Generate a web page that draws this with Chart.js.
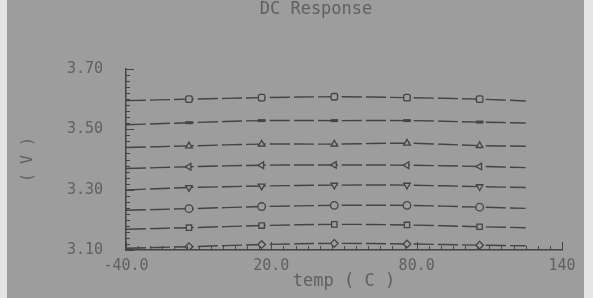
<!DOCTYPE html>
<html>
<head>
<meta charset="utf-8">
<script src="https://cdn.jsdelivr.net/npm/chart.js@4.4.1/dist/chart.umd.min.js"></script>
<style>
  html, body { margin: 0; padding: 0; background: #fff; }
  #wrap { width: 593px; height: 298px; }
</style>
</head>
<body>
<div id="wrap"><canvas id="dcChart" width="593" height="298"></canvas></div>
<script>
// temperature sweep points (C)
const temps = [-40, -14, 16, 46, 76, 106, 125];

// output voltage traces (V), top to bottom
const trace1 = [3.595, 3.600, 3.605, 3.608, 3.605, 3.600, 3.594];
const trace2 = [3.515, 3.522, 3.529, 3.529, 3.529, 3.524, 3.521];
const trace3 = [3.440, 3.445, 3.451, 3.451, 3.454, 3.446, 3.444];
const trace4 = [3.370, 3.376, 3.381, 3.382, 3.381, 3.377, 3.373];
const trace5 = [3.299, 3.307, 3.312, 3.315, 3.315, 3.310, 3.307];
const trace6 = [3.232, 3.237, 3.244, 3.248, 3.248, 3.242, 3.238];
const trace7 = [3.169, 3.174, 3.181, 3.185, 3.183, 3.177, 3.174];
const trace8 = [3.106, 3.111, 3.118, 3.122, 3.120, 3.116, 3.114];

const xTickLabels = ["-40.0", "20.0", "80.0", "140"];
const yTickLabels = ["3.10", "3.30", "3.50", "3.70"];

const BG = "#9d9d9d";
const INK = "#444444";
const TEXT = "#606060";

const markers = [
    { style: "rectRounded", rot: 0 },
    { style: "line", rot: 0 },
    { style: "triangle", rot: 0 },
    { style: "triangle", rot: -90 },
    { style: "triangle", rot: 180 },
    { style: "circle", rot: 0 },
    { style: "rect", rot: 0 },
    { style: "rectRot", rot: 0 },
];

const traces = [trace1, trace2, trace3, trace4, trace5, trace6, trace7, trace8];

const datasets = traces.map((vals, i) => ({
    data: temps.map((t, j) => ({ x: t, y: vals[j] })),
    borderColor: INK,
    borderWidth: 1.4,
    borderDash: [20, 4],
    tension: 0.3,
    pointStyle: markers[i].style,
    rotation: markers[i].rot,
    pointRadius: (c) => (c.dataIndex === 0 || c.dataIndex === temps.length - 1 ? 0 : 3.8),
    pointBorderColor: INK,
    pointBorderWidth: markers[i].style === "line" ? 3 : 1.3,
    pointBackgroundColor: BG,
}));

// background panel, plot heading, and inward tick marks
const plotFrame = {
    id: "plotFrame",
    beforeDraw(chart) {
        const c = chart.ctx;
        c.save();
        c.fillStyle = "#e4e4e4";
        c.fillRect(0, 0, chart.width, chart.height);
        c.fillStyle = BG;
        c.fillRect(7, 0, 577, chart.height);
        c.fillStyle = TEXT;
        c.font = "17px 'DejaVu Sans Mono'";
        c.textAlign = "center";
        c.textBaseline = "middle";
        c.fillText("DC Response", 316, 10);
        c.restore();
    },
    afterDraw(chart) {
        const c = chart.ctx;
        const xs = chart.scales.x;
        const ys = chart.scales.y;
        c.save();
        c.strokeStyle = INK;
        c.lineWidth = 1;
        c.beginPath();
        for (let v = -40; v <= 140.001; v += 5) {
            const px = Math.round(xs.getPixelForValue(v)) + 0.5;
            const len = (v + 40) % 60 === 0 ? 8 : 4;
            c.moveTo(px, ys.bottom);
            c.lineTo(px, ys.bottom - len);
        }
        for (let k = 0; k <= 30; k++) {
            const v = 3.1 + k * 0.02;
            const py = Math.round(ys.getPixelForValue(v)) + 0.5;
            const len = k % 10 === 0 ? 8 : 4;
            c.moveTo(xs.left, py);
            c.lineTo(xs.left + len, py);
        }
        c.stroke();
        c.restore();
    },
};

new Chart(document.getElementById("dcChart"), {
    type: "line",
    data: { datasets },
    plugins: [plotFrame],
    options: {
        responsive: false,
        animation: false,
        events: [],
        layout: { padding: { left: 0, right: 31, top: 69, bottom: 0 } },
        plugins: {
            legend: { display: false },
            tooltip: { enabled: false },
            title: { display: false },
        },
        scales: {
            x: {
                type: "linear",
                min: -40,
                max: 140,
                afterFit: (s) => { s.height = 48; },
                border: { display: true, color: INK, width: 1.5 },
                grid: { display: false, drawTicks: false },
                ticks: {
                    stepSize: 60,
                    padding: 7,
                    color: TEXT,
                    font: { family: "DejaVu Sans Mono", size: 15 },
                    maxRotation: 0,
                    callback: (v, i) => xTickLabels[i],
                },
                title: {
                    display: true,
                    text: "temp ( C )",
                    color: TEXT,
                    font: { family: "DejaVu Sans Mono", size: 17 },
                    padding: { top: 0, bottom: 6 },
                },
            },
            y: {
                min: 3.1,
                max: 3.7,
                afterFit: (s) => { s.width = 126; },
                border: { display: true, color: INK, width: 1.5 },
                grid: { display: false, drawTicks: false },
                ticks: {
                    stepSize: 0.2,
                    padding: 23,
                    color: TEXT,
                    font: { family: "DejaVu Sans Mono", size: 15 },
                    callback: (v, i) => yTickLabels[i],
                },
                title: {
                    display: true,
                    text: "( V )",
                    color: TEXT,
                    font: { family: "DejaVu Sans Mono", size: 15 },
                    padding: { top: 19, bottom: 0 },
                },
            },
        },
    },
});
</script>
</body>
</html>
